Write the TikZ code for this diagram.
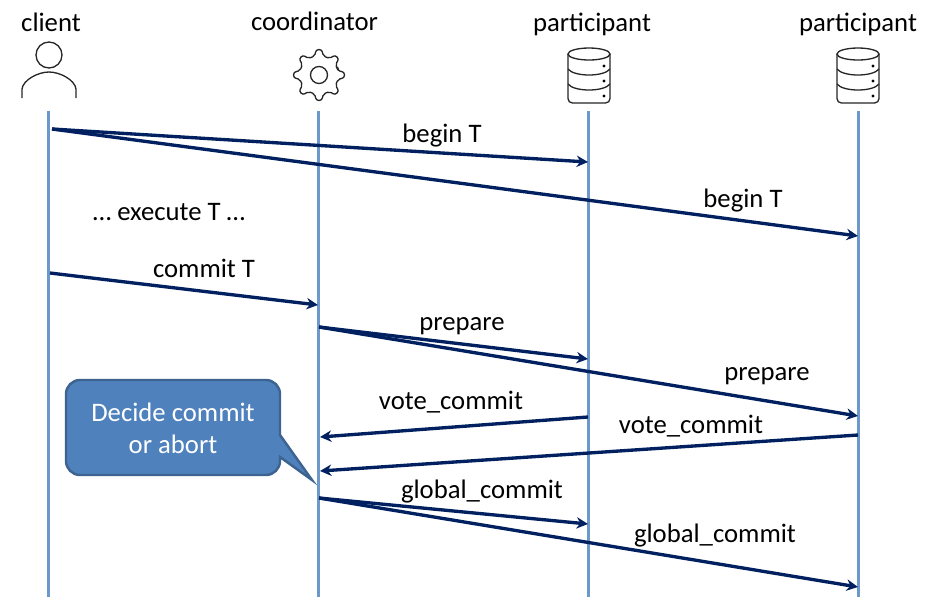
\documentclass[tikz,border=0pt]{standalone}
\usepackage{fontspec}
\setmainfont{Carlito}
\usetikzlibrary{arrows.meta}

\tikzset{
  lifeline/.style = {draw=lifeblue, line width=1.7pt},
  msg/.style = {draw=msgnavy, line width=1.9pt, -{Stealth[length=6.5pt, width=6.5pt]}},
  lbl/.style = {font=\fontsize{15.2}{18}\selectfont, inner sep=0pt},
  icon/.style = {draw=black!85, line width=0.75pt},
  dbicon/.pic = {
    \draw[icon, fill=white, rounded corners=2.5pt] (-21, -49) -- (-21, 0) -- (21, 0) -- (21, -49);
    \draw[icon] (0, -49) ellipse [x radius=21, y radius=6];
    \draw[icon] (-21, -34) .. controls (-15, -26) and (15, -26) .. (21, -34);
    \draw[icon] (-21, -19) .. controls (-15, -11) and (15, -11) .. (21, -19);
    \foreach \yy in {-37, -22, -7}
      \fill[black] (15, \yy) circle [radius=1.6];
  },
  gearicon/.pic = {
    \draw[icon, rounded corners=1.2pt] (-13:19.5)
      \foreach \aa in {0, 45, ..., 315} {
        -- (\aa-13:19.5) -- (\aa-6:25.5) -- (\aa+6:25.5) -- (\aa+13:19.5)
      } -- cycle;
    \draw[icon] (0, 0) circle [radius=8.5];
  }
}
\definecolor{lifeblue}{HTML}{6C98CB}
\definecolor{msgnavy}{HTML}{002060}
\definecolor{bubblefill}{HTML}{4F81BD}
\definecolor{bubbleedge}{HTML}{3D6390}

\begin{document}
\begin{tikzpicture}[x=0.02cm, y=-0.02cm]
\useasboundingbox (0, 0) rectangle (930, 606);

% lifelines
\foreach \nm/\xx in {cl/48.5, co/318.5, pa/588.5, pb/858} {
  \coordinate (\nm top) at (\xx, 111);
  \coordinate (\nm bot) at (\xx, 597);
  \draw[lifeline] (\nm top) -- (\nm bot);
}

% headings
\node[lbl] (clientlbl) at (51, 22) {client};
\node[lbl] (coordlbl) at (314.5, 21) {coordinator};
\node[lbl] (partalbl) at (592, 24) {participant};
\node[lbl] (partblbl) at (858, 24) {participant};

% client icon
\draw[icon] (49, 55) circle [radius=13];
\draw[icon] (22, 98) -- (22, 89) .. controls (23, 80) and (38, 72) .. (49, 72)
  .. controls (60, 72) and (75, 80) .. (76, 89) -- (76, 98);

% coordinator icon
\pic at (319, 75) {gearicon};

% participant icons
\pic at (589, 103) {dbicon};
\pic at (858, 103) {dbicon};

% message ends
\coordinate (a0) at (52, 129);
\coordinate (a1) at (588, 162);
\coordinate (a2) at (858, 236);
\coordinate (b0) at (50, 273);
\coordinate (b1) at (318, 305);
\coordinate (c0) at (319, 327);
\coordinate (c1) at (588, 359);
\coordinate (c2) at (858, 416);
\coordinate (d0) at (588, 417);
\coordinate (d1) at (320, 437);
\coordinate (e0) at (858, 435);
\coordinate (e1) at (320, 471);
\coordinate (f0) at (319, 498);
\coordinate (f1) at (588, 524);
\coordinate (f2) at (858, 587);

\draw[msg] (a0) -- (a1);
\draw[msg] (a0) -- (a2);
\draw[msg] (b0) -- (b1);
\draw[msg] (c0) -- (c1);
\draw[msg] (c0) -- (c2);
\draw[msg] (d0) -- (d1);
\draw[msg] (e0) -- (e1);
\draw[msg] (f0) -- (f1);
\draw[msg] (f0) -- (f2);

% message labels
\node[lbl] (begina) at (442, 136) {begin T};
\node[lbl] (beginb) at (743, 201) {begin T};
\node[lbl] (exec) at (169, 212) {… execute T …};
\node[lbl] (commit) at (204, 268) {commit T};
\node[lbl] (prepa) at (462, 326) {prepare};
\node[lbl] (prepb) at (767, 376) {prepare};
\node[lbl] (votea) at (451, 402) {vote\_commit};
\node[lbl] (voteb) at (691, 426) {vote\_commit};
\node[lbl] (globa) at (482, 492) {global\_commit};
\node[lbl] (globb) at (715, 536) {global\_commit};

% callout
\draw[fill=bubblefill, draw=bubbleedge, line width=1.4pt]
  (80, 380) -- (266, 380) .. controls (273.7, 380) and (280, 386.3) .. (280, 394)
  -- (280, 435) -- (312, 480) -- (280, 457) -- (280, 461)
  .. controls (280, 468.7) and (273.7, 475) .. (266, 475) -- (80, 475)
  .. controls (72.3, 475) and (66, 468.7) .. (66, 461) -- (66, 394)
  .. controls (66, 386.3) and (72.3, 380) .. (80, 380) -- cycle;
\node[lbl, text=white, align=center] (decide) at (173, 428.5) {Decide commit\\or abort};
\end{tikzpicture}
\end{document}
